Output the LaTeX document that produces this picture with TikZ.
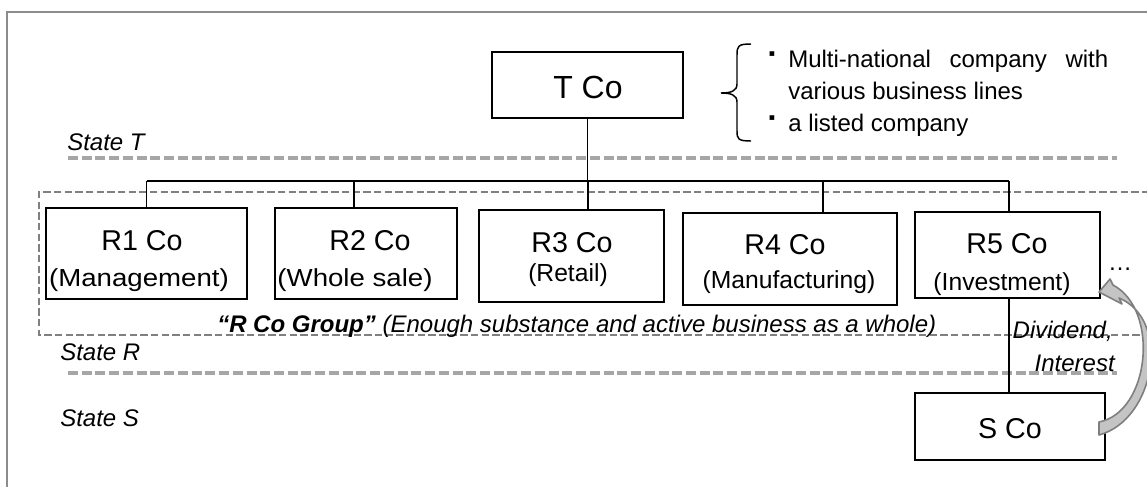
\documentclass[tikz,border=0pt]{standalone}
\usepackage{fontspec}
\setmainfont{Liberation Sans}
\newfontfamily\widefont{Liberation Sans}[FakeStretch=1.12]
\newfontfamily\symfont{DejaVu Sans}
\usetikzlibrary{fit}
\definecolor{framegray}{HTML}{8C8C8C}
\definecolor{statedash}{HTML}{A6A6A6}
\definecolor{groupdash}{HTML}{808080}
\definecolor{arrowfill}{HTML}{C4C4C4}
\definecolor{arrowedge}{HTML}{7F7F7F}
\tikzset{
  cobox/.style={draw=black, line width=1.6pt, inner sep=0pt},
  conn/.style={draw=black, line width=1.4pt},
  statesep/.style={draw=statedash, line width=2.3pt, dash pattern=on 7.5pt off 2.8pt},
  groupsep/.style={draw=groupdash, line width=1.5pt, dash pattern=on 5.5pt off 2.5pt},
  txt/.style={inner sep=0pt, font=\fontsize{18}{22}\selectfont},
  itxt/.style={inner sep=0pt, font=\fontsize{18}{22}\selectfont\itshape},
  ttl/.style={inner sep=0pt, font=\fontsize{21.5}{26}\selectfont, anchor=base},
  sub/.style={inner sep=0pt, font=\fontsize{18.5}{22}\selectfont, anchor=base},
  wsub/.style={inner sep=0pt, font=\fontsize{18.5}{22}\widefont, anchor=base},
  bul/.style={inner sep=0pt, font=\fontsize{7}{8}\symfont},
}
\begin{document}
\begin{tikzpicture}[x=0.75pt,y=-0.75pt]
\useasboundingbox (0,0) rectangle (1147,486);
\clip (0,0) rectangle (1147,486);

% page frame
\draw[framegray, line width=1.5pt] (7,495) -- (7,12) -- (1160,12);

% state borders
\draw[statesep] (68,158) -- (1117,158);
\draw[statesep] (68,373) -- (1117,373);

% R Co group outline
\draw[groupsep] (1160,192) -- (39,192) -- (39,335) -- (1160,335);

% parent company
\node[cobox, fit={(492,52) (683,118)}] (tco) {};
\node[txt, font=\fontsize{24}{28}\selectfont, anchor=base] (tcotext) at (588,98) {T Co};

% brace and notes
\draw[black, line width=1.1pt] (751,44) .. controls (738,44) and (737,46) .. (737,55) -- (737,84)
  .. controls (737,91) and (731,93) .. (721,93) .. controls (731,93) and (737,95) .. (737,102)
  -- (737,131) .. controls (737,139) and (738,141) .. (751,141);
\node[bul] (b1) at (772,54) {▪};
\node[bul] (b2) at (772,118) {▪};
\node[txt, anchor=base west] (n1) at (788,67) {\makebox[240pt][s]{Multi-national company with}};
\node[txt, anchor=base west] (n2) at (788,99) {various business lines};
\node[txt, anchor=base west] (n3) at (788,131) {a listed company};

% state labels
\node[itxt, anchor=base west] (st) at (67,150) {State T};
\node[itxt, anchor=base west] (sr) at (60,360) {State R};
\node[itxt, anchor=base west] (ss) at (60,426) {State S};

% subsidiaries in state R
\node[cobox, fit={(46,208) (247,299)}] (r1) {};
\node[cobox, fit={(275,208) (457,299)}] (r2) {};
\node[cobox, fit={(479,210) (664,302)}] (r3) {};
\node[cobox, fit={(683,213) (897,305)}] (r4) {};
\node[cobox, fit={(915,212) (1100,298)}] (r5) {};

\node[ttl] (r1t) at (142,250) {R1 Co};
\node[wsub] (r1s) at (139,286) {(Management)};
\node[ttl] (r2t) at (370,250) {R2 Co};
\node[wsub] (r2s) at (355,286) {(Whole sale)};
\node[ttl] (r3t) at (572,252) {R3 Co};
\node[sub] (r3s) at (568,281) {(Retail)};
\node[ttl] (r4t) at (785,254) {R4 Co};
\node[sub] (r4s) at (789,288) {(Manufacturing)};
\node[ttl] (r5t) at (1007,253) {R5 Co};
\node[sub] (r5s) at (1002,290) {(Investment)};
\node[txt, anchor=base] (more) at (1120,270) {…};

% group caption
\node[itxt, anchor=base west] (grp) at (217,332) {\textbf{“R Co Group”} (Enough substance and active business as a whole)};

% subsidiary in state S
\node[cobox, fit={(915,393) (1105,460)}] (sco) {};
\node[ttl] (scot) at (1010,438) {S Co};

% ownership lines
\coordinate (d1) at (146.5,181);
\coordinate (d2) at (354,181);
\coordinate (d3) at (588,181);
\coordinate (d4) at (823,181);
\coordinate (d5) at (1009,181);
\draw[conn] (tco.south) -- (tco.south |- d3);
\draw[conn] (d1) -- (d5);
\draw[conn] (d1) -- (d1 |- r1.north);
\draw[conn] (d2) -- (d2 |- r2.north);
\draw[conn] (d3) -- (d3 |- r3.north);
\draw[conn] (d4) -- (d4 |- r4.north);
\draw[conn] (d5) -- (d5 |- r5.north);
\draw[conn] (d5 |- r5.south) -- (d5 |- sco.north);

% payment flow
\node[itxt, anchor=base east] (div) at (1113,338) {Dividend,};
\node[itxt, anchor=base east] (int) at (1115,371) {Interest};
\draw[arrowedge, fill=arrowfill, line width=1.2pt, line join=round]
  (1099,435) .. controls (1155,420) and (1172,320) .. (1119,298)
  -- (1122,304) -- (1099,292) -- (1110,279) -- (1113,285)
  .. controls (1160,310) and (1150,412) .. (1099,422) -- cycle;
\end{tikzpicture}
\end{document}
